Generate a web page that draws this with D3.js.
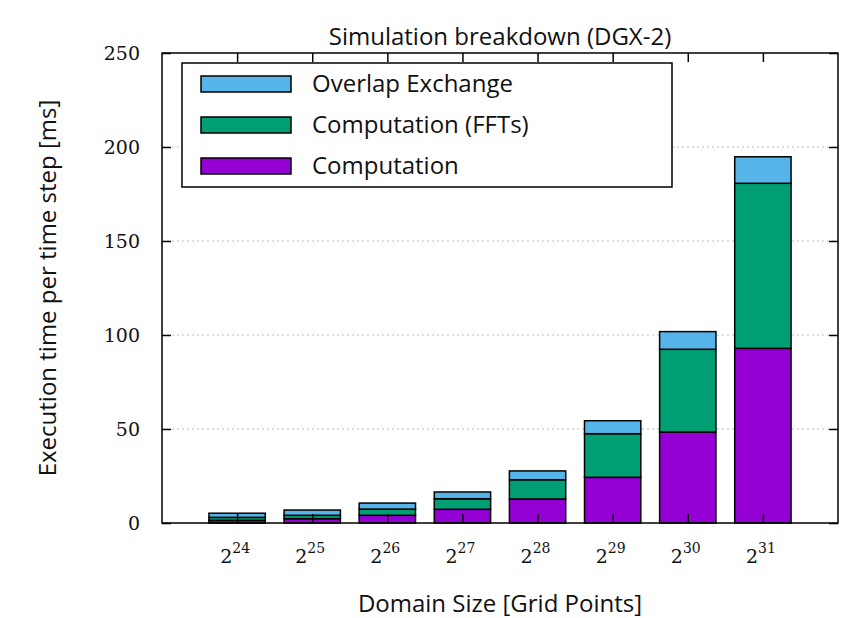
<!DOCTYPE html>
<html>
<head>
<meta charset="utf-8">
<script src="https://cdn.jsdelivr.net/npm/d3@7"></script>
<style>
  body { margin: 0; background: #fff; }
  .tickLabel { font-family: 'DejaVu Serif', serif; font-size: 19px; fill: #111; }
  .axisLabel { font-family: 'Open Sans', 'Noto Sans', sans-serif; font-size: 24px; fill: #111; }
</style>
</head>
<body>
<div id="graph"></div>
<script>
// Data
var exponents   = [24, 25, 26, 27, 28, 29, 30, 31];
var computation = [1.4, 2.3, 4.1, 7.3, 12.8, 24.3, 48.4, 92.9];
var ffts        = [1.6, 1.8, 3.3, 5.6, 10.2, 23.2, 44.0, 87.8];
var overlap     = [2.2, 2.8, 3.2, 3.6, 4.7, 6.9, 9.4, 14.1];
var yTicks      = [0, 50, 100, 150, 200, 250];

var seriesNames  = ['Computation', 'Computation (FFTs)', 'Overlap Exchange'];
var seriesColors = ['#9400d3', '#009e73', '#56b4e9'];

var W = 867, H = 618;
var margin = { top: 53, right: 29, bottom: 95, left: 162 };
var width  = W - margin.left - margin.right;
var height = H - margin.top - margin.bottom;

var table = exponents.map(function (e, i) {
    return { e: e, i: i + 1, c: computation[i], f: ffts[i], o: overlap[i] };
});

var stack = d3.stack().keys(['c', 'f', 'o'])(table);

var xScale = d3.scaleLinear().domain([0, 9]).range([0, width]);
var yScale = d3.scaleLinear().domain([0, 250]).range([height, 0]);
var barW = xScale(0.75) - xScale(0);

var svg = d3.select('#graph')
            .append('svg')
            .attr('width', W)
            .attr('height', H)
            .append('g')
            .attr('transform', 'translate(' + margin.left + ',' + margin.top + ')');

// grid
svg.selectAll('.grid')
   .data(yTicks.filter(function (t) { return t > 0 && t < 250; }))
   .enter().append('line')
   .attr('x1', 0).attr('x2', width)
   .attr('y1', function (d) { return yScale(d); })
   .attr('y2', function (d) { return yScale(d); })
   .attr('stroke', '#bbb')
   .attr('stroke-width', 1)
   .attr('stroke-dasharray', '2,3');

// bars
svg.selectAll('.layer')
   .data(stack)
   .enter().append('g')
   .attr('fill', function (d, k) { return seriesColors[k]; })
   .selectAll('rect')
   .data(function (d) { return d; })
   .enter().append('rect')
   .attr('x', function (d) { return xScale(d.data.i) - barW / 2; })
   .attr('width', barW)
   .attr('y', function (d) { return yScale(d[1]); })
   .attr('height', function (d) { return yScale(d[0]) - yScale(d[1]); })
   .attr('stroke', '#000')
   .attr('stroke-width', 1.5);

// ticks (inward, mirrored)
var yAxisL = d3.axisLeft(yScale).tickValues(yTicks).tickSize(-9).tickFormat('');
var yAxisR = d3.axisRight(yScale).tickValues(yTicks).tickSize(-9).tickFormat('');
var xAxisB = d3.axisBottom(xScale).tickValues(d3.range(1, 9)).tickSize(-9).tickFormat('');
var xAxisT = d3.axisTop(xScale).tickValues(d3.range(1, 9)).tickSize(-9).tickFormat('');

svg.append('g').call(yAxisL);
svg.append('g').attr('transform', 'translate(' + width + ',0)').call(yAxisR);
svg.append('g').attr('transform', 'translate(0,' + height + ')').call(xAxisB);
svg.append('g').call(xAxisT);
svg.selectAll('.domain').remove();
svg.selectAll('.tick line').attr('stroke', '#000').attr('stroke-width', 1.5);

// frame
svg.append('rect')
   .attr('width', width).attr('height', height)
   .attr('fill', 'none').attr('stroke', '#000').attr('stroke-width', 1.5);

// y tick labels
svg.selectAll('.ylab')
   .data(yTicks)
   .enter().append('text')
   .attr('class', 'tickLabel')
   .attr('text-anchor', 'end')
   .attr('x', -22)
   .attr('y', function (d) { return yScale(d) + 7; })
   .text(function (d) { return d; });

// x tick labels 2^n
var xl = svg.selectAll('.xlab')
   .data(table)
   .enter().append('text')
   .attr('class', 'tickLabel')
   .attr('text-anchor', 'middle')
   .attr('x', function (d) { return xScale(d.i) - 2; })
   .attr('y', height + 40);
xl.append('tspan').text('2');
xl.append('tspan')
  .attr('dy', -10)
  .style('font-size', '14px')
  .text(function (d) { return d.e; });

// title and axis labels
svg.append('text')
   .attr('class', 'axisLabel')
   .attr('text-anchor', 'middle')
   .attr('x', width / 2)
   .attr('y', -8)
   .text('Simulation breakdown (DGX-2)');

svg.append('text')
   .attr('class', 'axisLabel')
   .attr('text-anchor', 'middle')
   .attr('x', width / 2)
   .attr('y', height + 89)
   .text('Domain Size [Grid Points]');

svg.append('text')
   .attr('class', 'axisLabel')
   .attr('text-anchor', 'middle')
   .attr('transform', 'rotate(-90)')
   .attr('x', -height / 2)
   .attr('y', -106)
   .text('Execution time per time step [ms]');

// legend
var legend = svg.append('g').attr('transform', 'translate(20,10)');
legend.append('rect')
      .attr('width', 490).attr('height', 124)
      .attr('fill', '#fff').attr('stroke', '#000').attr('stroke-width', 1.5);

var order = [2, 1, 0];
var rows = legend.selectAll('.row')
      .data(order)
      .enter().append('g')
      .attr('transform', function (k, j) { return 'translate(0,' + (21 + j * 41) + ')'; });
rows.append('rect')
    .attr('x', 19).attr('y', -8)
    .attr('width', 90).attr('height', 16)
    .attr('fill', function (k) { return seriesColors[k]; })
    .attr('stroke', '#000').attr('stroke-width', 1.5);
rows.append('text')
    .attr('class', 'axisLabel')
    .attr('x', 130).attr('y', 8)
    .text(function (k) { return seriesNames[k]; });
</script>
</body>
</html>
